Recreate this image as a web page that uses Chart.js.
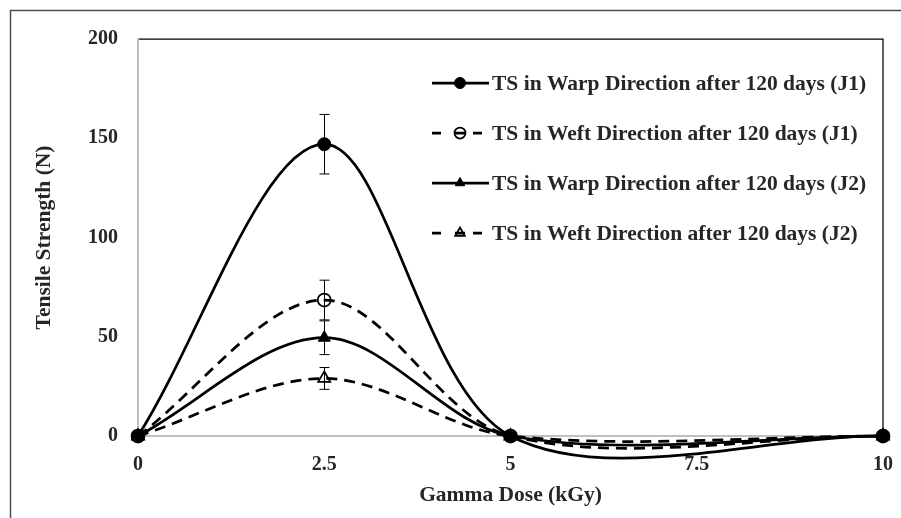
<!DOCTYPE html>
<html>
<head>
<meta charset="utf-8">
<script src="https://cdn.jsdelivr.net/npm/chart.js@4"></script>
<style>
  html, body { margin: 0; padding: 0; background: #ffffff; }
  #wrap { width: 901px; height: 518px; position: relative; }
</style>
</head>
<body>
<div id="wrap"><canvas id="tsChart" width="901" height="518"></canvas></div>
<script>
// data
const doses = [0, 2.5, 5, 10];
const warpJ1 = [0, 147, 0, 0];
const weftJ1 = [0, 68.5, 0, 0];
const warpJ2 = [0, 49.5, 0, 0];
const weftJ2 = [0, 29, 0, 0];

const errWarpJ1 = [0, 15, 0, 0];
const errWeftJ1 = [0, 10, 0, 0];
const errWarpJ2 = [0, 8.5, 0, 0];
const errWeftJ2 = [0, 5.5, 0, 0];

const xTicks = [0, 2.5, 5, 7.5, 10];
const yTicks = [0, 50, 100, 150, 200];

const seriesLabels = [
    "TS in Warp Direction after 120 days (J1)",
    "TS in Weft Direction after 120 days (J1)",
    "TS in Warp Direction after 120 days (J2)",
    "TS in Weft Direction after 120 days (J2)"
];

const FONT = "'Liberation Serif', 'Times New Roman', serif";
const TXT = "#262626";
const DASH = [11, 7];

function toPoints(values) {
    return doses.map((d, i) => ({ x: d, y: values[i] }));
}

function makeSet(label, values, errs, style, filled, dashed) {
    return {
        label: label,
        data: toPoints(values),
        errors: errs,
        borderColor: "#000000",
        borderWidth: 2.75,
        borderDash: dashed ? DASH : [],
        pointStyle: style,
        pointRadius: style === "triangle" ? 7 : 6.5,
        pointBorderWidth: filled ? 1 : 1.75,
        pointBorderColor: "#000000",
        pointBackgroundColor: filled ? "#000000" : "rgba(0,0,0,0)",
        tension: 0.33,
        clip: false
    };
}

// frame lines: outer figure frame + black top/right edge of the plot area
const framePlugin = {
    id: "frames",
    beforeDraw(chart) {
        const c = chart.ctx;
        const a = chart.chartArea;
        c.save();
        c.strokeStyle = "#4d4d4d";
        c.lineWidth = 1.5;
        c.beginPath();
        c.moveTo(10.5, chart.height);
        c.lineTo(10.5, 10.5);
        c.lineTo(chart.width, 10.5);
        c.stroke();
        c.strokeStyle = "#000000";
        c.lineWidth = 1.25;
        c.beginPath();
        c.moveTo(a.left, a.top);
        c.lineTo(a.right, a.top);
        c.lineTo(a.right, a.bottom);
        c.stroke();
        c.restore();
    }
};

// vertical error bars with caps
const errorBarPlugin = {
    id: "errorBars",
    afterDatasetsDraw(chart) {
        const c = chart.ctx;
        const xs = chart.scales.x, ys = chart.scales.y;
        c.save();
        c.strokeStyle = "#000000";
        c.lineWidth = 1;
        chart.data.datasets.forEach(ds => {
            ds.data.forEach((p, i) => {
                const e = ds.errors[i];
                if (!e) return;
                const x = Math.round(xs.getPixelForValue(p.x)) + 0.5;
                const y1 = ys.getPixelForValue(p.y + e);
                const y2 = ys.getPixelForValue(p.y - e);
                c.beginPath();
                c.moveTo(x, y1); c.lineTo(x, y2);
                c.moveTo(x - 5, y1); c.lineTo(x + 5, y1);
                c.moveTo(x - 5, y2); c.lineTo(x + 5, y2);
                c.stroke();
            });
        });
        c.restore();
    }
};

// legend drawn inside the plot area, top right
const insideLegend = {
    id: "insideLegend",
    afterDraw(chart) {
        const c = chart.ctx;
        const a = chart.chartArea;
        const x0 = a.left + 294;
        const y0 = a.top + 44;
        c.save();
        chart.data.datasets.forEach((ds, i) => {
            const y = y0 + i * 50;
            c.strokeStyle = "#000000";
            c.lineWidth = ds.borderWidth;
            c.beginPath();
            if (ds.borderDash.length) {
                c.setLineDash([9, 14, 10, 8]);
                c.moveTo(x0, y); c.lineTo(x0 + 50, y);
            } else {
                c.setLineDash([]);
                c.moveTo(x0, y); c.lineTo(x0 + 57, y);
            }
            c.stroke();
            c.setLineDash([]);
            c.fillStyle = ds.pointBackgroundColor;
            c.strokeStyle = "#000000";
            c.lineWidth = ds.pointBorderWidth;
            Chart.helpers.drawPoint(c, {
                pointStyle: ds.pointStyle,
                radius: 5.5,
                borderWidth: ds.pointBorderWidth
            }, x0 + 28, y);
            c.fillStyle = TXT;
            c.font = "bold 21.5px " + FONT;
            c.textAlign = "left";
            c.textBaseline = "middle";
            c.fillText(ds.label, x0 + 60, y + 1);
        });
        c.restore();
    }
};

const ctx = document.getElementById("tsChart");
const chart = new Chart(ctx, {
    type: "line",
    data: {
        datasets: [
            makeSet(seriesLabels[0], warpJ1, errWarpJ1, "circle", true, false),
            makeSet(seriesLabels[1], weftJ1, errWeftJ1, "circle", false, true),
            makeSet(seriesLabels[2], warpJ2, errWarpJ2, "triangle", true, false),
            makeSet(seriesLabels[3], weftJ2, errWeftJ2, "triangle", false, true)
        ]
    },
    options: {
        responsive: false,
        animation: false,
        events: [],
        layout: { padding: { top: 39, right: 18, left: 0, bottom: 0 } },
        elements: { line: { capBezierPoints: false } },
        plugins: {
            legend: { display: false },
            tooltip: { enabled: false }
        },
        scales: {
            x: {
                type: "linear",
                min: 0,
                max: 10,
                afterBuildTicks: s => { s.ticks = xTicks.map(v => ({ value: v })); },
                afterFit: s => { s.height = 82; s.paddingLeft = 0; s.paddingRight = 0; },
                grid: { display: false, drawTicks: false },
                border: { display: true, color: "#bfbfbf", width: 2 },
                ticks: {
                    color: TXT,
                    padding: 17,
                    maxRotation: 0,
                    font: { family: FONT, size: 20, weight: "bold" }
                },
                title: {
                    display: true,
                    text: "Gamma Dose (kGy)",
                    color: TXT,
                    padding: { top: 0, bottom: 10 },
                    font: { family: FONT, size: 21.5, weight: "bold" }
                }
            },
            y: {
                min: 0,
                max: 200,
                afterBuildTicks: s => { s.ticks = yTicks.map(v => ({ value: v })); },
                afterFit: s => { s.width = 138; },
                grid: { display: false, drawTicks: false },
                border: { display: true, color: "#bfbfbf", width: 2 },
                ticks: {
                    color: TXT,
                    padding: 20,
                    font: { family: FONT, size: 20, weight: "bold" }
                },
                title: {
                    display: true,
                    text: "Tensile Strength (N)",
                    color: TXT,
                    padding: { top: 32, bottom: 0 },
                    font: { family: FONT, size: 21.5, weight: "bold" }
                }
            }
        }
    },
    plugins: [framePlugin, errorBarPlugin, insideLegend]
});
</script>
</body>
</html>
